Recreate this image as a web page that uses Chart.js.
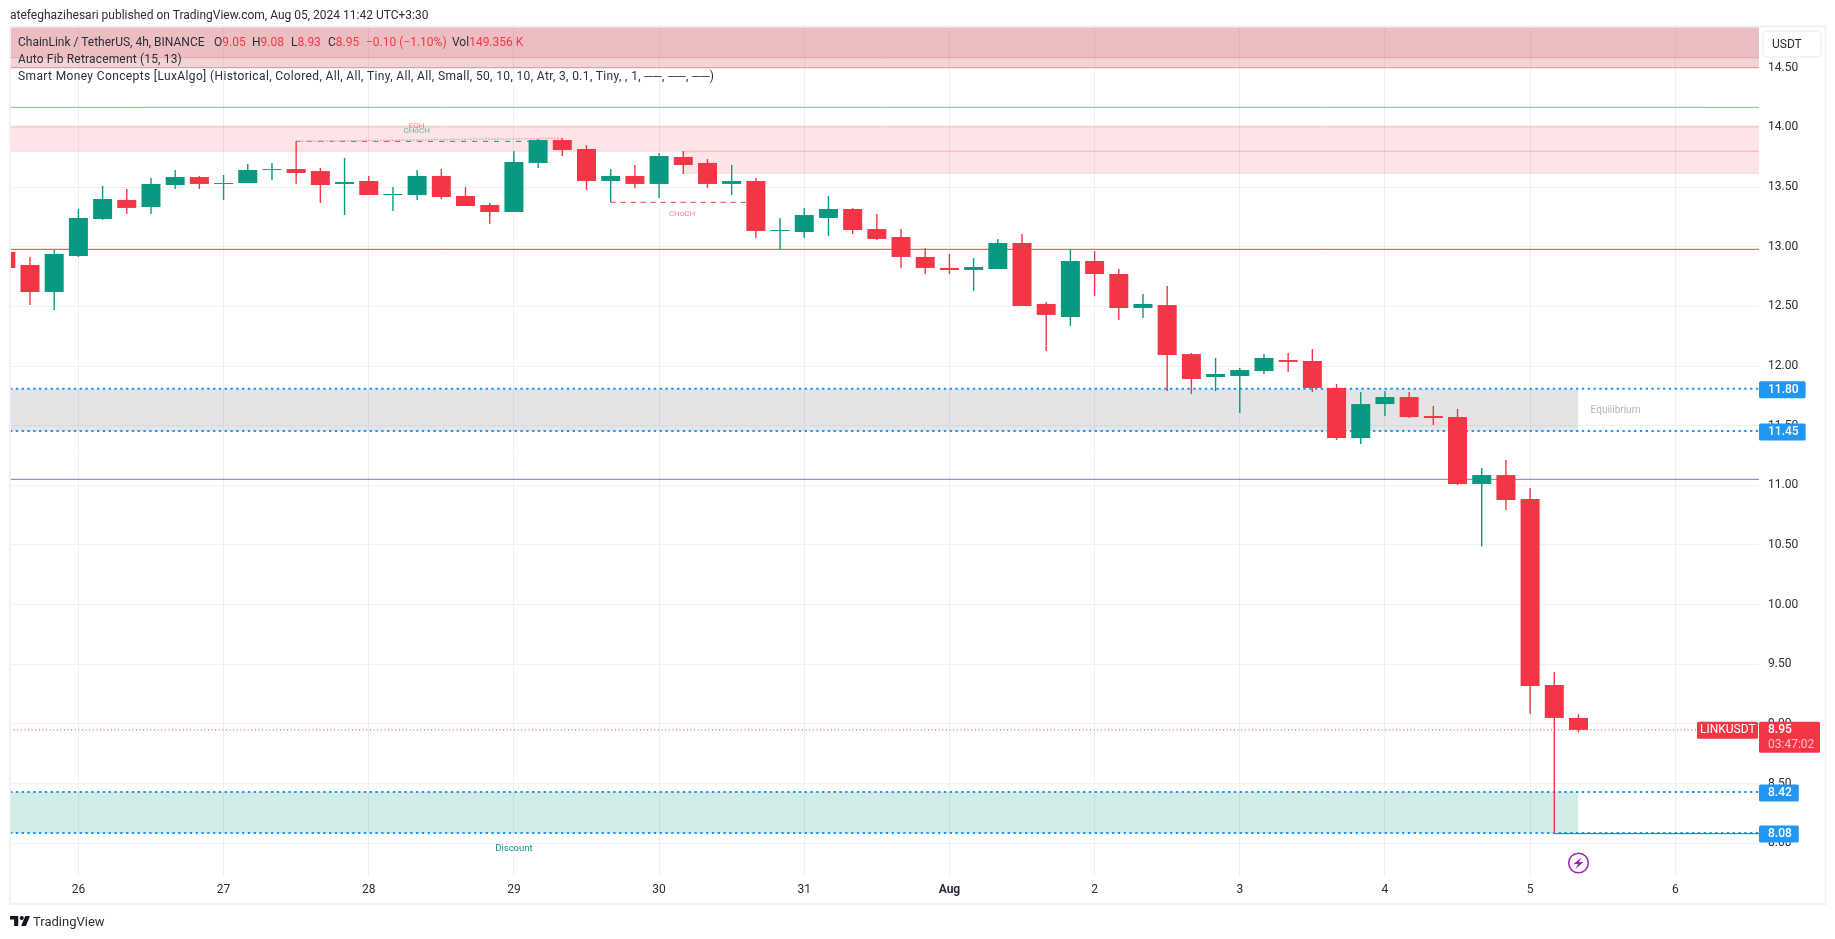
<!DOCTYPE html>
<html>
<head>
<meta charset="utf-8">
<title>LINKUSDT 4h</title>
<script src="https://cdn.jsdelivr.net/npm/chart.js@4/dist/chart.umd.js"></script>
<style>
  html, body { margin: 0; padding: 0; background: #fff; }
  #box { position: absolute; left: 0; top: 0; width: 1835px; height: 939px; overflow: hidden; }
  #box canvas { position: absolute; left: 0; top: 0; }
  .txt { position: absolute; white-space: pre; font: 12px "Roboto", sans-serif; color: #2a2e39; line-height: 16px; }
  .red { color: #f23645; }
</style>
</head>
<body>
<div id="box">
  <canvas id="grafico" width="1835" height="939"></canvas>
  <div class="txt" style="left:10px;top:7px">atefeghazihesari published on TradingView.com, Aug 05, 2024 11:42 UTC+3:30</div>
  <div class="txt" style="left:18px;top:34px">ChainLink / TetherUS, 4h, BINANCE</div>
  <div class="txt" style="left:214px;top:34px">O<span class="red">9.05</span></div>
  <div class="txt" style="left:252px;top:34px">H<span class="red">9.08</span></div>
  <div class="txt" style="left:291px;top:34px">L<span class="red">8.93</span></div>
  <div class="txt" style="left:328px;top:34px">C<span class="red">8.95</span></div>
  <div class="txt red" style="left:366px;top:34px">−0.10 (−1.10%)</div>
  <div class="txt" style="left:452px;top:34px">Vol<span class="red">149.356 K</span></div>
  <div class="txt" style="left:18px;top:51px;letter-spacing:0.17px">Auto Fib Retracement (15, 13)</div>
  <div class="txt" style="left:18px;top:68px;letter-spacing:0.37px">Smart Money Concepts [LuxAlgo] (Historical, Colored, All, All, Tiny, All, All, Small, 50, 10, 10, Atr, 3, 0.1, Tiny, , 1, ──, ──, ──)</div>
  <svg style="position:absolute;left:10px;top:916px" width="20" height="10" viewBox="0 0 34 17">
    <path d="M14 0H0v6h7v11h7V0z M34 0h-8l-7 17h8z" fill="#131722"/>
    <circle cx="20" cy="3.5" r="3.5" fill="#131722"/>
  </svg>
  <div class="txt" style="left:33px;top:914px;font-size:13px">TradingView</div>
</div>

<script>
// candle number, 0 is the candle of the 26th, one candle = 4h
const velas = [-3,-2,-1,0,1,2,3,4,5,6,7,8,9,10,11,12,13,14,15,16,17,18,19,20,21,22,23,24,25,26,27,28,29,30,31,32,33,34,35,36,37,38,39,40,41,42,43,44,45,46,47,48,49,50,51,52,53,54,55,56,57,58,59,60,61,62]

const abertura = [12.956,12.847,12.620,12.922,13.232,13.392,13.333,13.517,13.584,13.526,13.534,13.643,13.651,13.634,13.526,13.551,13.433,13.433,13.593,13.425,13.350,13.291,13.702,13.894,13.819,13.551,13.593,13.526,13.752,13.702,13.526,13.551,13.132,13.123,13.241,13.316,13.148,13.081,12.914,12.822,12.805,12.813,13.031,12.520,12.411,12.880,12.771,12.486,12.511,12.100,11.908,11.916,11.958,12.050,12.042,11.816,11.396,11.681,11.740,11.581,11.572,11.011,11.086,10.885,9.326,9.05]
const fechamento = [12.821,12.620,12.939,13.241,13.400,13.325,13.526,13.584,13.526,13.534,13.643,13.651,13.618,13.517,13.542,13.433,13.442,13.593,13.417,13.341,13.291,13.710,13.894,13.811,13.551,13.593,13.526,13.760,13.685,13.526,13.551,13.132,13.140,13.266,13.316,13.140,13.065,12.914,12.822,12.805,12.830,13.031,12.503,12.428,12.880,12.771,12.486,12.520,12.092,11.891,11.933,11.966,12.067,12.034,11.816,11.396,11.681,11.740,11.572,11.564,11.011,11.086,10.877,9.318,9.050,8.95]
const maximas = [12.97,12.914,12.975,13.316,13.509,13.484,13.576,13.643,13.593,13.601,13.693,13.702,13.886,13.660,13.744,13.593,13.500,13.643,13.651,13.500,13.366,13.802,13.903,13.911,13.852,13.651,13.685,13.785,13.802,13.735,13.685,13.576,13.241,13.324,13.425,13.324,13.274,13.148,12.989,12.939,12.905,13.065,13.106,12.537,12.972,12.964,12.813,12.604,12.671,12.109,12.067,11.983,12.100,12.109,12.142,11.849,11.782,11.790,11.782,11.665,11.640,11.145,11.212,10.977,9.435,9.08]
const minimas = [12.78,12.511,12.469,12.914,13.224,13.274,13.274,13.484,13.484,13.392,13.534,13.559,13.526,13.366,13.266,13.433,13.299,13.392,13.400,13.341,13.190,13.291,13.660,13.760,13.475,13.372,13.492,13.408,13.610,13.492,13.433,13.073,12.981,13.073,13.090,13.106,13.056,12.822,12.771,12.771,12.629,12.813,12.503,12.126,12.335,12.587,12.386,12.402,11.790,11.765,11.790,11.606,11.933,11.950,11.782,11.380,11.346,11.581,11.564,11.505,11.002,10.486,10.793,9.083,8.086,8.93]

const diasPosicao = [0,6,12,18,24,30,36,42,48,54,60,66]
const diasLegenda = ['26','27','28','29','30','31','Aug','2','3','4','5','6']

// price levels
const nivelVerde = 14.168
const nivelVermelho = 12.978
const nivelRoxo = 11.05
const ultimoPreco = 8.95
const equilibrio = [11.81, 11.455]
const desconto = [8.43, 8.085]
const blocoTopo = [14.85, 14.584, 14.50]
const blocoRosa = [14.009, 13.80, 13.615]
const eqh = [13.883, 13.908]
const chochVerde = 13.883
const chochVermelho = 13.372
const minimoFinal = 8.08

const selos = ['11.80', '11.45', '8.42', '8.08']
const selosNivel = [11.81, 11.455, 8.43, 8.085]

const esquerda = -2.827
const direita = 69.46
const fimZonas = 62
const corAlta = '#089981'
const corBaixa = '#f23645'

function linha(x1, y1, x2, y2, cor, largura, tracejado, ordem) {
    return {
        type: 'line',
        data: [{x: x1, y: y1}, {x: x2, y: y2}],
        borderColor: cor,
        borderWidth: largura,
        borderDash: tracejado || [],
        pointRadius: 0,
        fill: false,
        order: ordem || 20
    }
}

function faixa(topo, base, x1, x2, cor, ordem) {
    return {
        type: 'line',
        data: [{x: x1, y: topo}, {x: x2, y: topo}],
        borderWidth: 0,
        pointRadius: 0,
        backgroundColor: cor,
        fill: {value: base},
        order: ordem || 30
    }
}

const corVela = ctx => fechamento[ctx.dataIndex] >= abertura[ctx.dataIndex] ? corAlta : corBaixa

const conjuntos = [
    {
        label: 'corpo',
        data: velas.map((k, i) => ({x: k, y: [abertura[i], fechamento[i]]})),
        backgroundColor: corVela,
        barThickness: 19,
        grouped: false,
        inflateAmount: 0,
        order: 1
    },
    {
        label: 'pavio',
        data: velas.map((k, i) => ({x: k, y: [minimas[i], maximas[i]]})),
        backgroundColor: corVela,
        barThickness: 1.4,
        grouped: false,
        inflateAmount: 0,
        order: 2
    },
    faixa(blocoTopo[0], blocoTopo[2], esquerda, direita, 'rgba(190,50,55,0.21)', 31),
    faixa(blocoTopo[0], blocoTopo[1], esquerda, direita, 'rgba(215,50,60,0.13)', 30),
    linha(esquerda, blocoTopo[1], direita, blocoTopo[1], 'rgba(220,110,115,0.45)', 1),
    linha(esquerda, blocoTopo[2], direita, blocoTopo[2], 'rgba(200,100,110,0.6)', 1),
    faixa(blocoRosa[0], blocoRosa[1], esquerda, direita, 'rgba(242,54,69,0.13)', 31),
    faixa(blocoRosa[1], blocoRosa[2], 25, direita, 'rgba(242,54,69,0.13)', 31),
    linha(esquerda, blocoRosa[0], direita, blocoRosa[0], 'rgba(235,120,125,0.22)', 1.5),
    linha(esquerda, blocoRosa[1], 25, blocoRosa[1], 'rgba(235,120,125,0.22)', 1),
    linha(25, blocoRosa[1], direita, blocoRosa[1], 'rgba(238,90,100,0.4)', 1),
    linha(25, blocoRosa[2], direita, blocoRosa[2], 'rgba(235,120,125,0.22)', 1),
    linha(esquerda, nivelVerde, direita, nivelVerde, '#7fc287', 1),
    linha(esquerda, nivelVermelho, direita, nivelVermelho, '#e8453f', 1),
    linha(esquerda, nivelRoxo, direita, nivelRoxo, '#9495bd', 1.2),
    faixa(equilibrio[0], equilibrio[1], esquerda, fimZonas, 'rgba(115,120,130,0.2)', 31),
    faixa(desconto[0], desconto[1], esquerda, fimZonas, 'rgba(8,153,129,0.19)', 31),
    linha(esquerda, equilibrio[0], direita, equilibrio[0], '#2196f3', 2, [2.4, 3.4]),
    linha(esquerda, equilibrio[1], direita, equilibrio[1], '#2196f3', 2, [2.4, 3.4]),
    linha(esquerda, desconto[0], direita, desconto[0], '#2196f3', 2, [2.4, 3.4]),
    linha(esquerda, desconto[1], direita, desconto[1], '#2196f3', 2, [2.4, 3.4]),
    linha(61, minimoFinal, direita, minimoFinal, '#0b8a76', 1, [], 19),
    linha(esquerda, ultimoPreco, direita, ultimoPreco, '#f23645', 1, [1, 2.6], 10),
    linha(9, eqh[0], 20, eqh[1], '#ff9aa8', 1.5, [1.5, 1.5]),
    linha(9, chochVerde, 19, chochVerde, '#089981', 1, [5, 6]),
    linha(22, chochVermelho, 27.7, chochVermelho, '#f23645', 1, [5, 5])
]

// in-chart words, price badges, frame and icon
const desenhos = {
    id: 'desenhos',
    afterDraw(chart) {
        const c = chart.ctx
        const xs = chart.scales.x
        const ys = chart.scales.y

        function palavra(texto, k, preco, cor, tam, alinhar) {
            c.font = tam + 'px Roboto, sans-serif'
            c.fillStyle = cor
            c.textAlign = alinhar || 'center'
            c.textBaseline = 'middle'
            c.fillText(texto, xs.getPixelForValue(k), ys.getPixelForValue(preco))
        }

        palavra('EQH', 13.98, 14.01, 'rgba(242,54,69,0.6)', 8)
        palavra('CHoCH', 13.98, 13.97, 'rgba(8,153,129,0.65)', 8)
        palavra('CHoCH', 24.95, 13.27, 'rgba(242,54,69,0.6)', 8)
        palavra('Equilibrium', 62.5, 11.63, '#b2b5be', 10, 'left')
        palavra('Discount', 18, 7.955, '#089981', 9.5)

        // moldura
        c.strokeStyle = '#f0f0f6'
        c.lineWidth = 2
        c.strokeRect(10, 26.5, 1815.5, 877.5)

        // botao da moeda
        c.fillStyle = '#fff'
        c.strokeStyle = '#eef0f5'
        c.lineWidth = 1.5
        c.beginPath()
        c.roundRect(1763, 31, 58, 26, 4)
        c.fill()
        c.stroke()
        c.fillStyle = '#2a2e39'
        c.font = '12px Roboto, sans-serif'
        c.textAlign = 'left'
        c.textBaseline = 'middle'
        c.fillText('USDT', 1772, 44.5)

        // selos azuis
        selos.forEach((s, i) => {
            const y = ys.getPixelForValue(selosNivel[i])
            c.font = '500 12px Roboto, sans-serif'
            c.fillStyle = '#2196f3'
            c.beginPath()
            c.roundRect(1759, y - 7.5, c.measureText(s).width + 16, 17, 1.5)
            c.fill()
            c.fillStyle = '#fff'
            c.fillText(s, 1768, y + 1)
        })

        // selo do ultimo preco
        const yp = ys.getPixelForValue(ultimoPreco)
        c.fillStyle = corBaixa
        c.beginPath()
        c.roundRect(1697, yp - 8, 61, 17, 1.5)
        c.fill()
        c.beginPath()
        c.roundRect(1759, yp - 8, 61, 31, 1.5)
        c.fill()
        c.fillStyle = '#fff'
        c.font = '12px Roboto, sans-serif'
        c.fillText('LINKUSDT', 1700, yp + 0.5)
        c.font = '500 12px Roboto, sans-serif'
        c.fillText('8.95', 1768, yp + 0.5)
        c.fillStyle = 'rgba(255,255,255,0.7)'
        c.font = '12px Roboto, sans-serif'
        c.fillText('03:47:02', 1768, yp + 15)

        // icone do raio
        const xi = xs.getPixelForValue(62)
        c.strokeStyle = '#9c27b0'
        c.lineWidth = 1.5
        c.beginPath()
        c.arc(xi, 863, 9.8, 0, Math.PI * 2)
        c.stroke()
        c.fillStyle = '#9c27b0'
        c.beginPath()
        c.moveTo(xi + 3, 857.5)
        c.lineTo(xi - 5, 864)
        c.lineTo(xi - 0.5, 864)
        c.lineTo(xi - 3, 869)
        c.lineTo(xi + 5, 862)
        c.lineTo(xi + 0.5, 862)
        c.closePath()
        c.fill()
    }
}

const graficoLink = new Chart(document.querySelector('#grafico'), {
    type: 'bar',
    data: {datasets: conjuntos},
    options: {
        responsive: false,
        animation: false,
        layout: {padding: {left: 10, top: 27, right: 0, bottom: 0}},
        plugins: {legend: {display: false}, tooltip: {enabled: false}},
        scales: {
            x: {
                type: 'linear',
                min: esquerda,
                max: direita,
                offset: false,
                afterFit: s => { s.height = 63 },
                afterBuildTicks: s => { s.ticks = diasPosicao.map(v => ({value: v})) },
                border: {display: false},
                grid: {color: '#eff0f3', drawTicks: false, offset: false},
                ticks: {
                    autoSkip: false,
                    maxRotation: 0,
                    padding: 7,
                    color: '#2a2e39',
                    font: ctx => ({family: 'Roboto', size: 12, weight: ctx.tick && ctx.tick.value === 36 ? 'bold' : 'normal'}),
                    callback: (v, i) => diasLegenda[i]
                }
            },
            y: {
                position: 'right',
                min: 7.7251,
                max: 14.8416,
                afterFit: s => { s.width = 76 },
                border: {display: false},
                grid: {color: '#f0f1f4', drawTicks: false},
                ticks: {
                    stepSize: 0.5,
                    includeBounds: false,
                    padding: 9,
                    color: '#2a2e39',
                    font: {family: 'Roboto', size: 12},
                    callback: v => v.toFixed(2)
                }
            }
        }
    },
    plugins: [desenhos]
})
</script>
</body>
</html>
